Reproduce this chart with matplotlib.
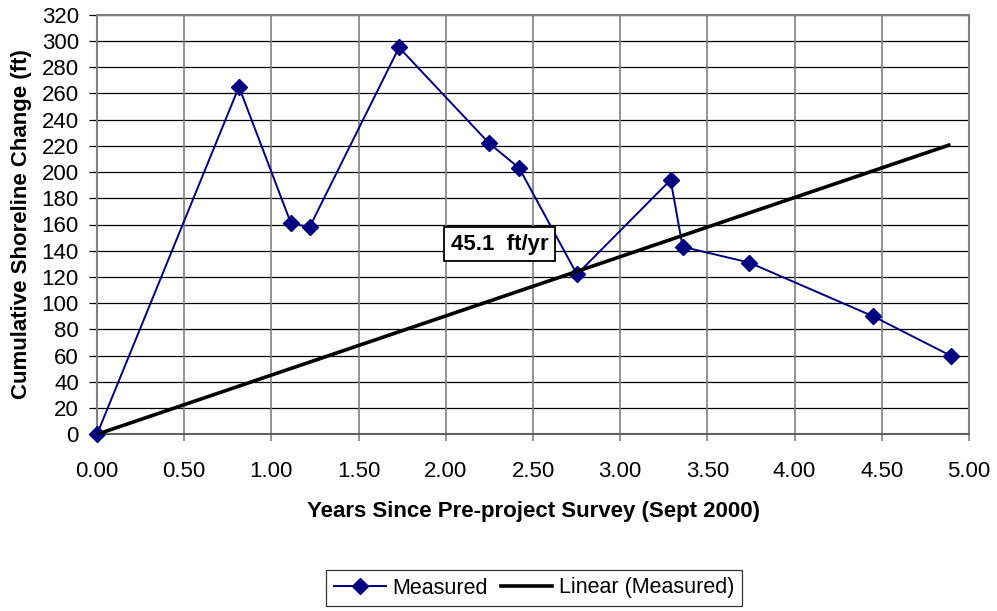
import numpy as np
import matplotlib
matplotlib.use("Agg")
from matplotlib import pyplot as plt
from matplotlib.lines import Line2D

plt.rcParams['font.family'] = ['Liberation Sans', 'DejaVu Sans']

# data
years = [0.0, 0.814, 1.112, 1.219, 1.732, 2.248, 2.421, 2.752, 3.289, 3.358, 3.739, 4.450, 4.894]
change = [0, 265, 161, 158, 295, 222, 203, 122, 194, 143, 131, 90, 60]
y_ticks = list(range(0, 321, 20))
x_ticks = [0.0, 0.5, 1.0, 1.5, 2.0, 2.5, 3.0, 3.5, 4.0, 4.5, 5.0]
rate_label = '45.1  ft/yr'

x = np.array(years)
y = np.array(change)
# linear trend through the origin
slope = (x * y).sum() / (x * x).sum()

fig = plt.figure(figsize=(9.97, 6.11), dpi=100)
ax = fig.add_axes([97 / 997, 1 - 434.3 / 611, (969 - 97) / 997, (434.3 - 14.7) / 611])

# grid
for v in y_ticks[1:]:
    ax.axhline(v, color='black', lw=0.9, zorder=1)
for v in x_ticks[1:-1]:
    ax.axvline(v, color='#808080', lw=1.2, zorder=1)

ax.plot(years, change, color='#000080', lw=1.4, marker='D', markersize=8.5,
        markerfacecolor='#000080', markeredgecolor='#000080', zorder=3, clip_on=False)
xt = np.array([0, x.max()])
ax.plot(xt, slope * xt, color='black', lw=2.6, zorder=4, solid_capstyle='butt')

ax.set_xlim(0, 5)
ax.set_ylim(0, 320)
ax.set_xticks(x_ticks)
ax.set_xticklabels(['%.2f' % t for t in x_ticks])
ax.set_yticks(y_ticks)
ax.tick_params(axis='x', direction='out', length=5, color='#808080', width=1.2,
               labelsize=16, pad=14)
ax.tick_params(axis='y', direction='out', length=6, color='black', width=0.9,
               labelsize=16, pad=7)
for s in ax.spines.values():
    s.set_color('#808080')
    s.set_linewidth(1.5)
ax.spines['bottom'].set_color('#606060')

ax.set_xlabel('Years Since Pre-project Survey (Sept 2000)', fontsize=16,
              fontweight='bold', labelpad=14)
ax.set_ylabel('Cumulative Shoreline Change (ft)', fontsize=16,
              fontweight='bold', labelpad=7)

ax.text(2.31, 145, rate_label, fontsize=16, fontweight='bold', ha='center', va='center',
        zorder=5, bbox=dict(boxstyle='square,pad=0.3', facecolor='white',
                            edgecolor='black', lw=1.3))

handles = [Line2D([], [], color='#000080', lw=1.4, marker='D', markersize=8.5),
           Line2D([], [], color='black', lw=2.6)]
leg = fig.legend(handles, ['Measured', 'Linear (Measured)'], loc='center',
                 bbox_to_anchor=(534 / 997, 1 - 588 / 611), ncol=2, fontsize=15.5,
                 frameon=True, fancybox=False, edgecolor='black', handlelength=2.4,
                 handletextpad=0.3, columnspacing=0.6, borderpad=0.35)
leg.get_frame().set_linewidth(0.9)

plt.savefig('out.png', dpi=100)
